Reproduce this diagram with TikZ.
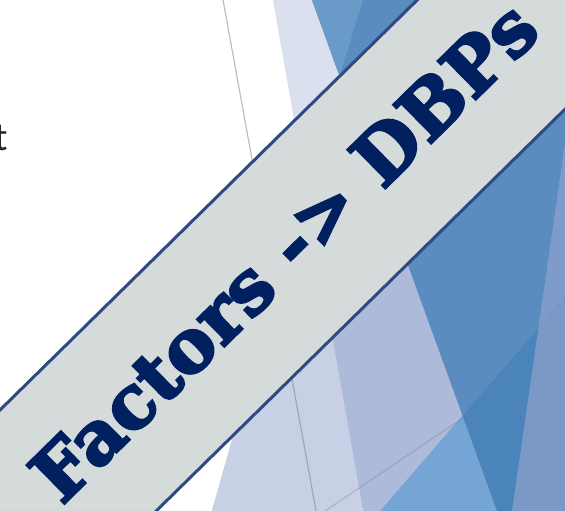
\documentclass[tikz,border=0pt]{standalone}
\usepackage{fontspec}
\newfontfamily\bannerfont{DejaVu Serif Bold}[FakeBold=3.2]
\newfontfamily\bodyfont{Carlito}
\definecolor{lavA}{HTML}{C8D0E5}
\definecolor{lavU}{HTML}{DAE0EE}
\definecolor{lavAU}{HTML}{ADBAD9}
\definecolor{blueB}{HTML}{5A8CBF}
\definecolor{blueS}{HTML}{6A9BC8}
\definecolor{violetV}{HTML}{7F9BCB}
\definecolor{lbOne}{HTML}{74A5D5}
\definecolor{lbTwo}{HTML}{4A84BB}
\definecolor{lbThree}{HTML}{7B98C7}
\definecolor{bandfill}{HTML}{D5DBDB}
\definecolor{bandline}{HTML}{2F4A83}
\definecolor{navy}{HTML}{00205F}
\tikzset{
  grayline/.style={draw=black!50, opacity=0.5, line width=1.2pt},
  banner/.style={rectangle, fill=bandfill, draw=bandline, line width=3pt, inner sep=0pt},
  bannertext/.style={inner sep=0pt, text=navy, font=\bannerfont\fontsize{74}{80}\selectfont},
}
\begin{document}
\begin{tikzpicture}[x=1pt,y=-1pt]
\useasboundingbox (0,0) rectangle (565,511);
\clip (0,0) rectangle (565,511);
\fill[white] (0,0) rectangle (565,511);
% lavender triangle A
\fill[lavA] (209.2,520) -- (290,235) -- (600,235) -- (600,520) -- cycle;
% lavender band U
\fill[lavU] (272.1,-5) -- (364.6,520) -- (600,520) -- (600,-5) -- cycle;
\begin{scope}
  \clip (209.2,520) -- (290,235) -- (600,235) -- (600,520) -- cycle;
  \fill[lavAU] (272.1,-5) -- (364.6,520) -- (600,520) -- (600,-5) -- cycle;
\end{scope}
% blue triangle B
\fill[blueB] (310.2,-5) -- (500.3,520) -- (600,520) -- (600,-5) -- cycle;
\fill[blueS] (310.2,-5) -- (364.6,-5) -- (339.5,75.9) -- cycle;
% violet V
\fill[violetV] (571.2,100) -- (510.7,520) -- (600,520) -- (600,100) -- cycle;
% light blue L
\fill[lbOne] (372.2,520) -- (600,256.5) -- (600,520) -- cycle;
\begin{scope}
  \clip (310.2,-5) -- (500.3,520) -- (600,520) -- (600,-5) -- cycle;
  \fill[lbTwo] (372.2,520) -- (600,256.5) -- (600,520) -- cycle;
\end{scope}
\begin{scope}
  \clip (571.2,100) -- (510.7,520) -- (600,520) -- (600,100) -- cycle;
  \fill[lbThree] (372.2,520) -- (600,256.5) -- (600,520) -- cycle;
\end{scope}
% thin gray lines
\coordinate (g1a) at (222.1,-5);
\coordinate (g1b) at (317,516);
\coordinate (g2a) at (317.6,516);
\coordinate (g2b) at (463,418);
\draw[grayline] (g1a) -- (g1b);
\draw[grayline, opacity=0.35] (g2a) -- (g2b);
% partial text at left
\node[anchor=base west, inner sep=0pt, font=\bodyfont\fontsize{40}{48}\selectfont, text=black!85] (tt) at (-5.8,150) {t};
% banner
\node[banner, rotate=44.5, minimum width=900pt, minimum height=181.5pt] (band) at (287.5,254.7) {};
\node[bannertext, rotate=44.5] (title) at (283.8,251.0) {Factors -> DBPs};
\end{tikzpicture}
\end{document}
